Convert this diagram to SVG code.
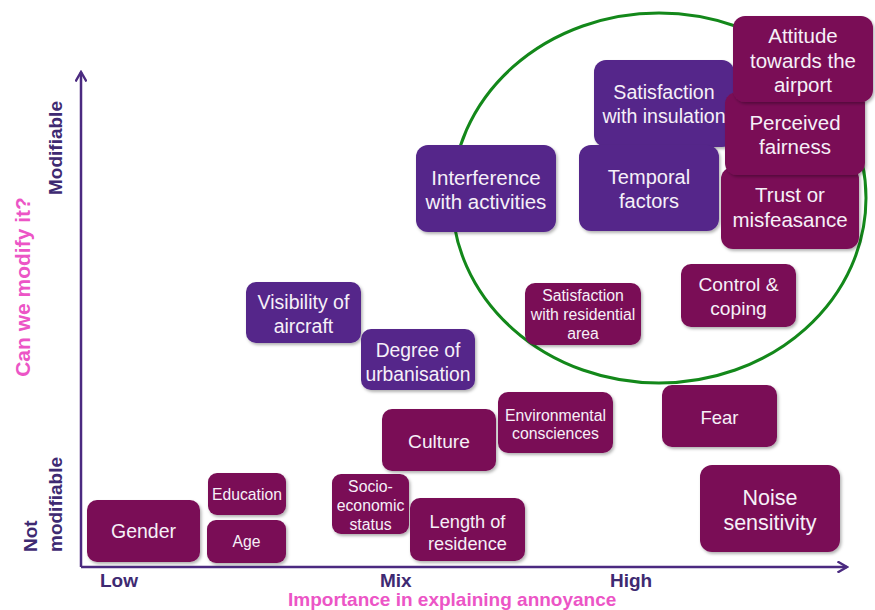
<svg xmlns="http://www.w3.org/2000/svg" width="875" height="610" viewBox="0 0 875 610">
<defs>
  <filter id="sh" x="-10%" y="-10%" width="125%" height="130%">
    <feDropShadow dx="1.5" dy="2" stdDeviation="1.5" flood-color="#000" flood-opacity="0.3"/>
  </filter>
  <marker id="arr" viewBox="0 0 12 12" markerWidth="12" markerHeight="12" refX="10" refY="6" orient="auto" markerUnits="userSpaceOnUse">
    <path d="M0.5,0.5 L10,6 L0.5,11.5" fill="none" stroke="#4B2A80" stroke-width="2.4" stroke-linejoin="miter"/>
  </marker>
</defs>
<style>
  text { font-family: "Liberation Sans", Arial, sans-serif; }
  .m { fill: #7A1156; filter: url(#sh); }
  .v { fill: #54278A; filter: url(#sh); }
  .t { fill: #F6F0F8; text-anchor: middle; }
  .ax { fill: #3E2A72; font-weight: bold; font-size: 19px; }
  .pk { fill: #EC55C6; font-weight: bold; }
  .axis { stroke: #4B2A80; stroke-width: 2.5; fill: none; marker-end: url(#arr); }
</style>
<rect width="875" height="610" fill="#FFFFFF"/>

<ellipse id="circle" cx="659" cy="198" rx="207" ry="185" fill="none" stroke="#13881A" stroke-width="3"/>

<g id="axes">
  <path class="axis" d="M81,567 L81,72"/>
  <path class="axis" d="M81,567 L847,567"/>
</g>

<g id="labels">
  <text class="ax" x="100" y="587">Low</text>
  <text class="ax" x="380" y="587">Mix</text>
  <text class="ax" x="610" y="587">High</text>
  <text class="pk" x="288" y="606" font-size="19">Importance in explaining annoyance</text>
  <text class="pk" font-size="21" text-anchor="middle" transform="translate(30,287) rotate(-90)">Can we modify it?</text>
  <text class="ax" transform="translate(62,195) rotate(-90)">Modifiable</text>
  <text class="ax" transform="translate(37,552) rotate(-90)">Not</text>
  <text class="ax" transform="translate(62,552) rotate(-90)">modifiable</text>
</g>

<g id="gender"><rect class="m" x="87" y="500" width="113" height="62" rx="10"/><text class="t" x="143.5" y="538" font-size="19.5">Gender</text></g>
<g id="education"><rect class="m" x="208" y="473" width="78" height="42" rx="9"/><text class="t" x="247" y="500" font-size="15.7">Education</text></g>
<g id="age"><rect class="m" x="207" y="520" width="79" height="43" rx="9"/><text class="t" x="246.5" y="547" font-size="15.7">Age</text></g>
<g id="socio"><rect class="m" x="332" y="474" width="77" height="60" rx="9"/><text class="t" font-size="15.8"><tspan x="370.5" y="492">Socio-</tspan><tspan x="370.5" y="511">economic</tspan><tspan x="370.5" y="530">status</tspan></text></g>
<g id="length"><rect class="m" x="410" y="498" width="115" height="63" rx="10"/><text class="t" font-size="18.2"><tspan x="467.5" y="528">Length of</tspan><tspan x="467.5" y="550">residence</tspan></text></g>
<g id="visibility"><rect class="v" x="246" y="282" width="115" height="61" rx="10"/><text class="t" font-size="19.5"><tspan x="303.5" y="309">Visibility of</tspan><tspan x="303.5" y="333">aircraft</tspan></text></g>
<g id="degree"><rect class="v" x="361" y="329" width="114" height="61" rx="10"/><text class="t" font-size="19.3"><tspan x="418" y="357">Degree of</tspan><tspan x="418" y="381">urbanisation</tspan></text></g>
<g id="culture"><rect class="m" x="382" y="409" width="114" height="62" rx="10"/><text class="t" x="439" y="448" font-size="19.2">Culture</text></g>
<g id="environmental"><rect class="m" x="498" y="392" width="115" height="61" rx="10"/><text class="t" font-size="15.8"><tspan x="555.5" y="421">Environmental</tspan><tspan x="555.5" y="439">consciences</tspan></text></g>
<g id="sat-residential"><rect class="m" x="525" y="283" width="116" height="62" rx="10"/><text class="t" font-size="15.8"><tspan x="583" y="301">Satisfaction</tspan><tspan x="583" y="320">with residential</tspan><tspan x="583" y="339">area</tspan></text></g>
<g id="control"><rect class="m" x="681" y="264" width="115" height="63" rx="10"/><text class="t" font-size="19.2"><tspan x="738.5" y="291">Control &amp;</tspan><tspan x="738.5" y="315">coping</tspan></text></g>
<g id="fear"><rect class="m" x="662" y="385" width="115" height="62" rx="10"/><text class="t" x="719.5" y="424" font-size="18.5">Fear</text></g>
<g id="noise"><rect class="m" x="700" y="465" width="140" height="87" rx="12"/><text class="t" font-size="21.5"><tspan x="770" y="505">Noise</tspan><tspan x="770" y="530">sensitivity</tspan></text></g>
<g id="interference"><rect class="v" x="416" y="145" width="140" height="87" rx="12"/><text class="t" font-size="20.5"><tspan x="486" y="185">Interference</tspan><tspan x="486" y="209">with activities</tspan></text></g>
<g id="sat-insulation"><rect class="v" x="594" y="60" width="140" height="87" rx="12"/><text class="t" font-size="19.6"><tspan x="664" y="99">Satisfaction</tspan><tspan x="664" y="123">with insulation</tspan></text></g>
<g id="temporal"><rect class="v" x="579" y="145" width="140" height="86" rx="12"/><text class="t" font-size="20"><tspan x="649" y="184">Temporal</tspan><tspan x="649" y="208">factors</tspan></text></g>
<g id="trust"><rect class="m" x="721" y="167" width="138" height="82" rx="12"/><text class="t" font-size="20.5"><tspan x="790" y="202">Trust or</tspan><tspan x="790" y="227">misfeasance</tspan></text></g>
<g id="perceived"><rect class="m" x="725" y="92" width="140" height="83" rx="12"/><text class="t" font-size="20.5"><tspan x="795" y="130">Perceived</tspan><tspan x="795" y="154">fairness</tspan></text></g>
<g id="attitude"><rect class="m" x="733" y="16" width="140" height="86" rx="12"/><text class="t" font-size="20.5"><tspan x="803" y="43">Attitude</tspan><tspan x="803" y="67.5">towards the</tspan><tspan x="803" y="92">airport</tspan></text></g>
</svg>
